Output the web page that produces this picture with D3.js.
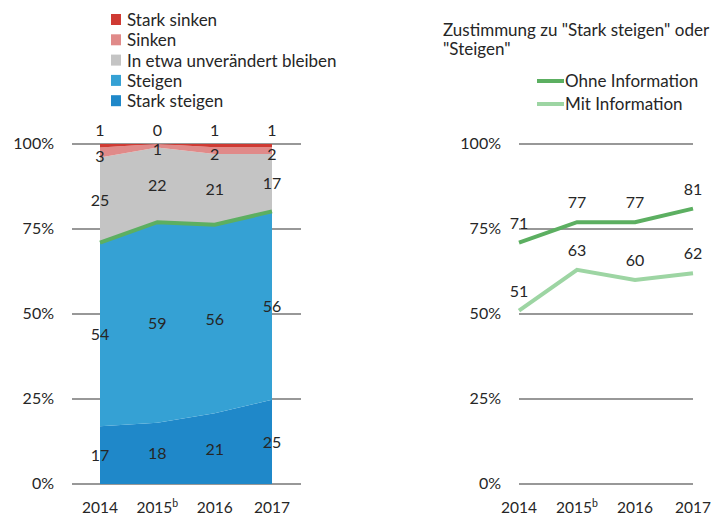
<!DOCTYPE html>
<html>
<head>
<meta charset="utf-8">
<script src="https://cdn.jsdelivr.net/npm/d3@7"></script>
<style>
body { margin: 0; background: #fff; }
svg text { font-family: Lato, "Open Sans", sans-serif; fill: #262626; }
</style>
</head>
<body>
<svg id="chart" width="717" height="516"></svg>
<script>
var years = ["2014", "2015", "2016", "2017"];
var yearSup = ["", "b", "", ""];
var categories = ["Stark steigen", "Steigen", "In etwa unverändert bleiben", "Sinken", "Stark sinken"];
var starkSteigen = [17, 18, 21, 25];
var steigen = [54, 59, 56, 56];
var unveraendert = [25, 22, 21, 17];
var sinken = [3, 1, 2, 2];
var starkSinken = [1, 0, 1, 1];
var ohneInfo = [71, 77, 77, 81];
var mitInfo = [51, 63, 60, 62];
var yTicks = [0, 25, 50, 75, 100];

var colors = {"Stark steigen": "#1f88c9", "Steigen": "#35a1d4", "In etwa unverändert bleiben": "#c4c4c4",
              "Sinken": "#e08a89", "Stark sinken": "#cf3a33"};
var seriesVals = [starkSteigen, steigen, unveraendert, sinken, starkSinken];

var svg = d3.select("#chart");

// shared y scale
var y = d3.scaleLinear().domain([0, 100]).range([484, 144]);

// ---------- left: stacked area ----------
var rows = years.map(function(yr, i) {
    var r = {year: yr};
    categories.forEach(function(c, k) { r[c] = seriesVals[k][i]; });
    return r;
});
var stack = d3.stack().keys(categories).offset(d3.stackOffsetExpand);
var layers = stack(rows);

var xL = d3.scalePoint().domain(years).range([100, 272]);

var gridL = svg.append("g");
yTicks.forEach(function(t) {
    gridL.append("line").attr("x1", 72).attr("x2", 301)
        .attr("y1", y(t)).attr("y2", y(t)).attr("stroke", "#333").attr("stroke-width", 1.2);
    gridL.append("text").attr("x", 54).attr("y", y(t) + 5).attr("text-anchor", "end")
        .attr("font-size", 16).text(t + "%");
});

var area = d3.area()
    .x(function(d) { return xL(d.data.year); })
    .y0(function(d) { return y(d[0] * 100); })
    .y1(function(d) { return y(d[1] * 100); });

svg.append("g").selectAll("path").data(layers).join("path")
    .attr("d", area).attr("fill", function(d) { return colors[d.key]; });

// green line at the top of "Steigen"
var steigenLayer = layers[1];
svg.append("path").datum(steigenLayer)
    .attr("fill", "none").attr("stroke", "#5caf61").attr("stroke-width", 4)
    .attr("d", d3.line().x(function(d) { return xL(d.data.year); }).y(function(d) { return y(d[1] * 100); }));

// value labels
layers.forEach(function(layer, k) {
    layer.forEach(function(d, i) {
        var ly = k === 4 ? 136 : y((d[0] + d[1]) / 2 * 100) + 6;
        if (k === 3) ly = y((d[0] + d[1]) / 2 * 100) + 9;
        svg.append("text").attr("x", xL(d.data.year)).attr("y", ly)
            .attr("text-anchor", "middle").attr("font-size", 16)
            .text(seriesVals[k][i]);
    });
});

// x axis labels
function yearLabels(scale, yPos) {
    years.forEach(function(yr, i) {
        var t = svg.append("text").attr("x", scale(yr)).attr("y", yPos)
            .attr("text-anchor", "middle").attr("font-size", 15.5);
        t.append("tspan").text(yr);
        if (yearSup[i]) t.append("tspan").attr("font-size", 10.5).attr("dy", -6).text(yearSup[i]);
    });
}
yearLabels(xL, 513);

// legend
var legend = svg.append("g");
categories.slice().reverse().forEach(function(c, i) {
    var ly = 20 + i * 20.3;
    legend.append("rect").attr("x", 111).attr("y", ly - 6).attr("width", 10).attr("height", 11)
        .attr("fill", colors[c]);
    legend.append("text").attr("x", 127).attr("y", ly + 6).attr("font-size", 17).text(c);
});

// ---------- right: lines ----------
var xR = d3.scalePoint().domain(years).range([519, 693]);
yTicks.forEach(function(t) {
    svg.append("line").attr("x1", 519).attr("x2", 693)
        .attr("y1", y(t)).attr("y2", y(t)).attr("stroke", "#333").attr("stroke-width", 1.2);
    svg.append("text").attr("x", 501).attr("y", y(t) + 5).attr("text-anchor", "end")
        .attr("font-size", 16).text(t + "%");
});

var lineSeries = [
    {name: "Ohne Information", values: ohneInfo, color: "#5caf61"},
    {name: "Mit Information", values: mitInfo, color: "#9dd5a3"}
];
var line = d3.line().x(function(d, i) { return xR(years[i]); }).y(function(d) { return y(d); });
lineSeries.forEach(function(s, k) {
    svg.append("path").datum(s.values).attr("fill", "none")
        .attr("stroke", s.color).attr("stroke-width", 4).attr("d", line);
    s.values.forEach(function(v, i) {
        svg.append("text").attr("x", xR(years[i])).attr("y", y(v) - 14)
            .attr("text-anchor", "middle").attr("font-size", 16).text(v);
    });
    var ly = 81 + k * 23;
    svg.append("line").attr("x1", 537).attr("x2", 564).attr("y1", ly).attr("y2", ly)
        .attr("stroke", s.color).attr("stroke-width", 4);
    svg.append("text").attr("x", 565).attr("y", ly + 6).attr("font-size", 17).text(s.name);
});

svg.append("text").attr("x", 443).attr("y", 36).attr("font-size", 17)
    .text("Zustimmung zu \"Stark steigen\" oder");
svg.append("text").attr("x", 443).attr("y", 55).attr("font-size", 17)
    .text("\"Steigen\"");

yearLabels(xR, 513);
</script>
</body>
</html>
